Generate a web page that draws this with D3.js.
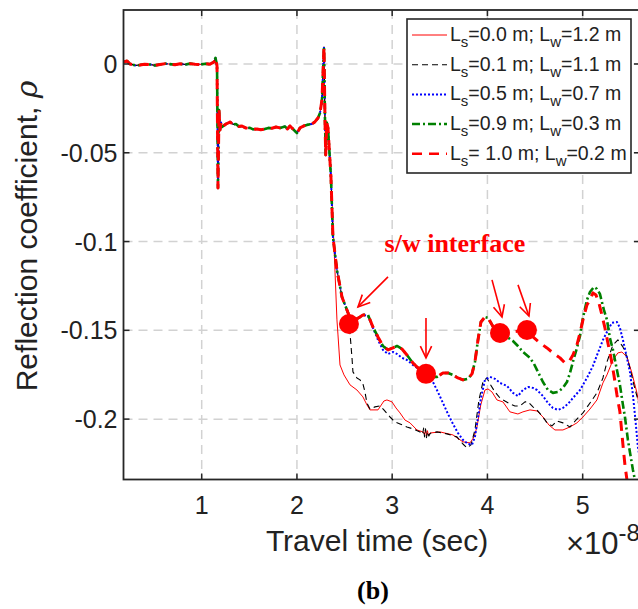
<!DOCTYPE html>
<html>
<head>
<meta charset="utf-8">
<script src="https://cdn.jsdelivr.net/npm/d3@7/dist/d3.min.js"></script>
<style>
  html, body { margin: 0; padding: 0; background: #fff; }
  svg { display: block; }
  text { font-family: "Liberation Sans", Arial, sans-serif; fill: #222; }
</style>
</head>
<body>
<div id="chart"></div>
<script>
// axis ticks
var xTicks = [1, 2, 3, 4, 5];
var yTicks = [0, -0.05, -0.1, -0.15, -0.2];
var yTickLabels = ["0", "-0.05", "-0.1", "-0.15", "-0.2"];
var xDomain = [0.179, 5.602];
var yDomain = [-0.234, 0.0304];

// part of the trace shared by all five cases (time in 1e-8 s, rho)
var commonPart = [[0.179,0.0011],[0.216,0.0017],[0.247,0],[0.30,-0.0008],[0.352,-0.0006],[0.40,-0.0002],[0.457,-0.0003],
  [0.51,-0.0008],[0.562,-0.0003],[0.62,0.0002],[0.667,-0.0001],[0.72,-0.0004],[0.772,0.0001],[0.83,-0.0003],[0.877,0.0002],
  [0.93,-0.0001],[0.982,-0.0003],[1.04,0.0001],[1.087,-0.0001],[1.129,0.0011],[1.145,0.0034],[1.161,-0.0011],[1.171,-0.0698],
  [1.182,-0.0259],[1.192,-0.0372],[1.203,-0.0330],[1.213,-0.0355],[1.255,-0.0338],[1.297,-0.0327],[1.33,-0.0340],[1.36,-0.0338],
  [1.39,-0.0352],[1.423,-0.0349],[1.46,-0.0360],[1.507,-0.0360],[1.54,-0.0368],[1.58,-0.0366],[1.62,-0.0370],[1.664,-0.0366],
  [1.70,-0.0360],[1.738,-0.0362],[1.78,-0.0355],[1.822,-0.0360],[1.874,-0.0352],[1.90,-0.0366],[1.927,-0.0349],[1.958,-0.0366],
  [2.000,-0.0389],[2.032,-0.0360],[2.07,-0.0349],[2.105,-0.0343],[2.158,-0.0338],[2.19,-0.0325],[2.221,-0.0304],[2.242,-0.0276],
  [2.263,-0.0203],[2.284,0.0096],[2.295,-0.0330],[2.302,-0.0512],[2.313,-0.0330],[2.326,-0.0360],[2.357,-0.0636]];

// steep descent shared by Ls >= 0.1
var descentPart = [[2.378,-0.0973],[2.420,-0.1160],[2.473,-0.1312],[2.525,-0.1385]];

// shared path of Ls = 0.9 and Ls = 1.0 up to the third marker
var soilPart = [[2.557,-0.1430],[2.609,-0.1441],[2.662,-0.1425],[2.693,-0.1413],[2.746,-0.1413],[2.798,-0.1481],[2.851,-0.1537],
  [2.903,-0.1588],[2.956,-0.1610],[3.008,-0.1599],[3.050,-0.1588],[3.103,-0.1605],[3.155,-0.1639],[3.218,-0.1684],[3.292,-0.1723],
  [3.355,-0.1745],[3.418,-0.1762],[3.470,-0.1762],[3.533,-0.1740],[3.586,-0.1740],[3.638,-0.1751],[3.69,-0.1768],[3.743,-0.1779],
  [3.796,-0.1773],[3.838,-0.1745],[3.869,-0.1678],[3.901,-0.1554],[3.932,-0.1453],[3.974,-0.1425],[4.006,-0.1430],[4.037,-0.1458],
  [4.079,-0.1498],[4.132,-0.1515]];

var tailLs00 = [[2.378,-0.0878],[2.399,-0.1160],[2.420,-0.1441],[2.431,-0.1526],[2.452,-0.1695],[2.494,-0.1751],[2.557,-0.1807],
  [2.630,-0.1836],[2.693,-0.1875],[2.735,-0.1920],[2.767,-0.1948],[2.851,-0.1948],[2.913,-0.1898],[2.945,-0.1892],[2.998,-0.1903],
  [3.04,-0.1937],[3.082,-0.1965],[3.134,-0.2005],[3.187,-0.2021],[3.260,-0.2061],[3.323,-0.2072],[3.34,-0.2085],[3.35,-0.2060],
  [3.36,-0.2095],[3.37,-0.2065],[3.38,-0.2090],[3.40,-0.2078],[3.502,-0.2072],[3.638,-0.2089],[3.743,-0.2128],[3.817,-0.2134],
  [3.86,-0.2100],[3.890,-0.2044],[3.93,-0.1920],[3.974,-0.1836],[4.006,-0.1830],[4.048,-0.1847],[4.100,-0.1892],[4.163,-0.1903],
  [4.236,-0.1959],[4.32,-0.1971],[4.373,-0.1959],[4.447,-0.1948],[4.520,-0.1954],[4.583,-0.1988],[4.646,-0.2033],[4.709,-0.2061],
  [4.793,-0.2061],[4.867,-0.2044],[4.94,-0.2021],[5.003,-0.1988],[5.077,-0.1943],[5.150,-0.1892],[5.213,-0.1796],[5.255,-0.1751],
  [5.318,-0.1667],[5.370,-0.1627],[5.412,-0.1622],[5.465,-0.1650],[5.517,-0.1740],[5.570,-0.1852],[5.622,-0.2005]];

var tailLs01 = [[2.546,-0.1441],[2.557,-0.1515],[2.578,-0.1655],[2.588,-0.1734],[2.630,-0.1768],[2.662,-0.1779],[2.693,-0.1802],
  [2.714,-0.1847],[2.735,-0.1909],[2.767,-0.1943],[2.819,-0.1931],[2.872,-0.1926],[2.913,-0.1948],[2.977,-0.1988],[3.03,-0.2016],
  [3.082,-0.2027],[3.155,-0.2044],[3.218,-0.2055],[3.292,-0.2072],[3.32,-0.2085],[3.33,-0.2050],[3.34,-0.2100],[3.35,-0.2055],
  [3.36,-0.2105],[3.37,-0.2070],[3.385,-0.2095],[3.40,-0.2080],[3.470,-0.2072],[3.575,-0.2083],[3.680,-0.2100],[3.743,-0.2140],
  [3.785,-0.2162],[3.827,-0.2145],[3.869,-0.2061],[3.911,-0.1892],[3.953,-0.1790],[3.995,-0.1768],[4.027,-0.1802],[4.079,-0.1847],
  [4.132,-0.1881],[4.184,-0.1898],[4.236,-0.1914],[4.289,-0.1926],[4.342,-0.1926],[4.394,-0.1903],[4.426,-0.1903],[4.478,-0.1931],
  [4.520,-0.1948],[4.583,-0.1988],[4.625,-0.2021],[4.678,-0.2038],[4.730,-0.2010],[4.793,-0.2021],[4.867,-0.2044],[4.93,-0.2005],
  [5.003,-0.1965],[5.077,-0.1909],[5.150,-0.1852],[5.213,-0.1768],[5.255,-0.1678],[5.318,-0.1582],[5.370,-0.1554],[5.423,-0.1593],
  [5.465,-0.1650],[5.496,-0.1712],[5.538,-0.1807],[5.580,-0.1892],[5.622,-0.2033]];

var tailLs05 = [[2.557,-0.1430],[2.609,-0.1441],[2.662,-0.1425],[2.693,-0.1413],[2.746,-0.1419],[2.798,-0.1486],[2.851,-0.1554],
  [2.903,-0.1610],[2.956,-0.1633],[3.008,-0.1622],[3.050,-0.1633],[3.103,-0.1655],[3.155,-0.1667],[3.218,-0.1695],[3.292,-0.1723],
  [3.365,-0.1745],[3.428,-0.1791],[3.48,-0.1847],[3.533,-0.1909],[3.586,-0.1971],[3.638,-0.2027],[3.69,-0.2078],[3.743,-0.2117],
  [3.796,-0.2140],[3.838,-0.2145],[3.869,-0.2100],[3.901,-0.1993],[3.932,-0.1881],[3.974,-0.1779],[4.027,-0.1762],[4.079,-0.1773],
  [4.132,-0.1796],[4.205,-0.1813],[4.268,-0.1852],[4.32,-0.1870],[4.373,-0.1836],[4.426,-0.1819],[4.478,-0.1824],[4.520,-0.1836],
  [4.583,-0.1870],[4.636,-0.1909],[4.688,-0.1937],[4.741,-0.1948],[4.793,-0.1937],[4.846,-0.1914],[4.898,-0.1881],[4.972,-0.1836],
  [5.045,-0.1768],[5.108,-0.1700],[5.16,-0.1627],[5.213,-0.1554],[5.265,-0.1498],[5.307,-0.1458],[5.360,-0.1453],[5.391,-0.1486],
  [5.423,-0.1554],[5.465,-0.1655],[5.496,-0.1734],[5.528,-0.1864],[5.559,-0.2033],[5.580,-0.2157],[5.622,-0.2286]];

var tailLs09 = [[4.205,-0.1537],[4.268,-0.1560],[4.32,-0.1588],[4.373,-0.1622],[4.447,-0.1655],[4.489,-0.1689],[4.520,-0.1723],
  [4.583,-0.1791],[4.636,-0.1836],[4.688,-0.1852],[4.741,-0.1847],[4.793,-0.1824],[4.835,-0.1791],[4.867,-0.1740],[4.909,-0.1655],
  [4.940,-0.1599],[4.972,-0.1532],[5.003,-0.1430],[5.045,-0.1329],[5.077,-0.1284],[5.119,-0.1256],[5.150,-0.1267],[5.181,-0.1295],
  [5.223,-0.1385],[5.255,-0.1441],[5.286,-0.1543],[5.318,-0.1610],[5.360,-0.1723],[5.391,-0.1807],[5.423,-0.1920],[5.444,-0.1988],
  [5.475,-0.2117],[5.496,-0.2185],[5.528,-0.2286],[5.559,-0.2370],[5.601,-0.2455]];

var tailLs10 = [[4.184,-0.1526],[4.257,-0.1509],[4.342,-0.1503],[4.415,-0.1498],[4.478,-0.1537],[4.552,-0.1571],[4.625,-0.1599],
  [4.688,-0.1627],[4.762,-0.1655],[4.814,-0.1684],[4.856,-0.1678],[4.898,-0.1639],[4.940,-0.1582],[4.972,-0.1515],[5.003,-0.1441],
  [5.045,-0.1357],[5.077,-0.1329],[5.108,-0.1289],[5.14,-0.1301],[5.171,-0.1346],[5.202,-0.1413],[5.234,-0.1486],[5.265,-0.1571],
  [5.297,-0.1655],[5.328,-0.1751],[5.360,-0.1864],[5.391,-0.1959],[5.423,-0.2145],[5.444,-0.2258],[5.465,-0.2342],[5.496,-0.2455]];

// s/w interface markers and arrows (tail -> head)
var interfacePoints = [[2.546,-0.1464],[3.355,-0.1745],[4.132,-0.1515],[4.415,-0.1498]];
var arrows = [
  [[2.956,-0.1199],[2.641,-0.1368]],
  [[3.355,-0.1430],[3.355,-0.1655]],
  [[4.048,-0.1216],[4.153,-0.1425]],
  [[4.321,-0.1244],[4.436,-0.1419]]
];
var noteText = "s/w interface";
var notePos = [2.92, -0.106];

var seriesNames = [["0.0", "1.2", ""], ["0.1", "1.1", ""], ["0.5", "0.7", ""], ["0.9", "0.3", ""], ["1.0", "0.2", " "]];

var series = [
  { data: commonPart.concat(tailLs00), color: "#ff0000", width: 1, dash: null },
  { data: commonPart.concat(descentPart, tailLs01), color: "#000000", width: 1.1, dash: "6,4" },
  { data: commonPart.concat(descentPart, tailLs05), color: "#0000ff", width: 2, dash: "2,2" },
  { data: commonPart.concat(descentPart, soilPart, tailLs09), color: "#008000", width: 2.6, dash: "8,3,2,3" },
  { data: commonPart.concat(descentPart, soilPart, tailLs10), color: "#ff0000", width: 3, dash: "10,7" }
];

function drawChart() {
  var W = 638, H = 609;
  var pLeft = 123.5, pRight = 640, pTop = 10, pBottom = 479.5;

  var svg = d3.select("#chart").append("svg")
    .attr("width", W).attr("height", H);

  var x = d3.scaleLinear().domain(xDomain).range([pLeft, pRight]);
  var y = d3.scaleLinear().domain(yDomain).range([pBottom, pTop]);

  svg.append("defs").append("clipPath").attr("id", "plotclip")
    .append("rect").attr("x", pLeft).attr("y", pTop)
    .attr("width", pRight - pLeft).attr("height", pBottom - pTop);

  // grid
  var grid = svg.append("g").attr("stroke", "#d2d2d2").attr("stroke-width", 1.5).attr("stroke-dasharray", "9,6");
  grid.selectAll(".vg").data(xTicks).enter().append("line")
    .attr("x1", d => x(d)).attr("x2", d => x(d)).attr("y1", pTop).attr("y2", pBottom);
  grid.selectAll(".hg").data(yTicks).enter().append("line")
    .attr("x1", pLeft).attr("x2", pRight).attr("y1", d => y(d)).attr("y2", d => y(d));

  // lines
  var line = d3.line().x(d => x(d[0])).y(d => y(d[1]));
  var lines = svg.append("g").attr("clip-path", "url(#plotclip)");
  series.forEach(function(s) {
    lines.append("path").datum(s.data)
      .attr("d", line)
      .attr("fill", "none")
      .attr("stroke", s.color)
      .attr("stroke-width", s.width)
      .attr("stroke-dasharray", s.dash)
      .attr("stroke-linejoin", "round");
  });

  // markers
  svg.append("g").selectAll("circle").data(interfacePoints).enter().append("circle")
    .attr("cx", d => x(d[0])).attr("cy", d => y(d[1])).attr("r", 10)
    .attr("fill", "#ff0000");

  // arrows
  var arr = svg.append("g").attr("stroke", "#ff0000").attr("stroke-width", 1.6).attr("fill", "none");
  arrows.forEach(function(a) {
    var x1 = x(a[0][0]), y1 = y(a[0][1]), x2 = x(a[1][0]), y2 = y(a[1][1]);
    var ang = Math.atan2(y2 - y1, x2 - x1), L = 13, sp = Math.PI / 7;
    arr.append("line").attr("x1", x1).attr("y1", y1).attr("x2", x2).attr("y2", y2);
    arr.append("path").attr("d",
      "M" + (x2 - L * Math.cos(ang - sp)) + "," + (y2 - L * Math.sin(ang - sp)) +
      "L" + x2 + "," + y2 +
      "L" + (x2 - L * Math.cos(ang + sp)) + "," + (y2 - L * Math.sin(ang + sp)));
  });

  svg.append("text").attr("x", x(notePos[0])).attr("y", y(notePos[1]))
    .style("font-family", "'Liberation Serif', 'Times New Roman', serif")
    .style("font-weight", "bold").style("font-size", "26px").style("fill", "#ff0000")
    .text(noteText);

  // axes box and ticks
  var axc = "#262626";
  svg.append("rect").attr("x", pLeft).attr("y", pTop).attr("width", pRight - pLeft).attr("height", pBottom - pTop)
    .attr("fill", "none").attr("stroke", axc).attr("stroke-width", 1.8);
  var tk = svg.append("g").attr("stroke", axc).attr("stroke-width", 1.5);
  xTicks.forEach(function(t) {
    tk.append("line").attr("x1", x(t)).attr("x2", x(t)).attr("y1", pBottom).attr("y2", pBottom - 6);
    tk.append("line").attr("x1", x(t)).attr("x2", x(t)).attr("y1", pTop).attr("y2", pTop + 6);
  });
  yTicks.forEach(function(t) {
    tk.append("line").attr("x1", pLeft).attr("x2", pLeft + 6).attr("y1", y(t)).attr("y2", y(t));
    tk.append("line").attr("x1", pRight).attr("x2", pRight - 6).attr("y1", y(t)).attr("y2", y(t));
  });

  svg.append("g").selectAll("text").data(xTicks).enter().append("text")
    .attr("x", d => x(d)).attr("y", pBottom + 34)
    .attr("text-anchor", "middle").style("font-size", "25px")
    .text(d => d);
  svg.append("g").selectAll("text").data(yTicks).enter().append("text")
    .attr("x", pLeft - 6).attr("y", d => y(d) + 9)
    .attr("text-anchor", "end").style("font-size", "25px")
    .text((d, i) => yTickLabels[i]);

  svg.append("text").attr("x", 377).attr("y", 551).attr("text-anchor", "middle")
    .style("font-size", "30px").text("Travel time (sec)");

  var mult = svg.append("text").attr("x", 566).attr("y", 554).style("font-size", "31px");
  mult.append("tspan").text("\u00d710");
  mult.append("tspan").attr("dy", -13).style("font-size", "24px").text("-8");

  var yl = svg.append("text").attr("transform", "translate(37,236) rotate(-90)")
    .attr("text-anchor", "middle").style("font-size", "30px");
  yl.append("tspan").text("Reflection coefficient, ");
  yl.append("tspan").style("font-style", "italic").style("font-family", "'DejaVu Serif', serif").text("\u03c1");

  svg.append("text").attr("x", 373).attr("y", 599).attr("text-anchor", "middle")
    .style("font-family", "'Liberation Serif', 'Times New Roman', serif")
    .style("font-weight", "bold").style("font-size", "26px").style("fill", "#000")
    .text("(b)");

  // legend
  var lg = svg.append("g");
  lg.append("rect").attr("x", 407).attr("y", 19).attr("width", 224).attr("height", 154)
    .attr("fill", "#fff").attr("stroke", axc).attr("stroke-width", 1.6);
  series.forEach(function(s, i) {
    var cy = 35 + i * 29.7;
    lg.append("line").attr("x1", 412).attr("x2", 447).attr("y1", cy).attr("y2", cy)
      .attr("stroke", s.color).attr("stroke-width", Math.min(s.width, 2.5))
      .attr("stroke-dasharray", s.dash);
    var t = lg.append("text").attr("x", 450).attr("y", cy + 6).style("font-size", "19.5px");
    var n = seriesNames[i];
    t.append("tspan").text("L");
    t.append("tspan").attr("dy", 6).style("font-size", "15px").text("s");
    t.append("tspan").attr("dy", -6).text("=" + n[2] + n[0] + " m; L");
    t.append("tspan").attr("dy", 6).style("font-size", "15px").text("w");
    t.append("tspan").attr("dy", -6).text("=" + n[1] + " m");
  });
}

drawChart();
</script>
</body>
</html>
